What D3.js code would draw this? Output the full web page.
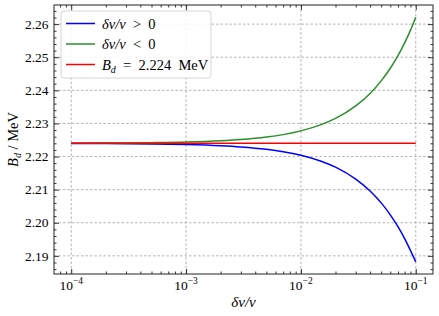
<!DOCTYPE html>
<html><head><meta charset="utf-8">
<script src="https://cdn.jsdelivr.net/npm/d3@7"></script>
<style>
html,body{margin:0;padding:0;background:#fff;}
svg{display:block;}
text{font-family:"Liberation Serif","Times New Roman",serif;fill:#000;}
</style></head>
<body>
<svg id="chart" width="439" height="316"></svg>
<script>
// ---- data ----
const deltas = [1e-4, 2e-4, 5e-4, 1e-3, 2e-3, 3e-3, 5e-3, 7e-3, 1e-2, 1.5e-2, 2e-2, 3e-2, 4e-2, 5e-2, 6e-2, 7e-2, 8e-2, 9e-2, 1e-1];
const bdPositive = [2.22396, 2.22393, 2.22382, 2.22364, 2.22328, 2.22292, 2.22220, 2.22148, 2.22040, 2.21860, 2.21680, 2.21320, 2.20960, 2.20600, 2.20240, 2.19880, 2.19520, 2.19160, 2.18820];
const bdNegative = [2.22404, 2.22407, 2.22419, 2.22437, 2.22475, 2.22512, 2.22587, 2.22662, 2.22775, 2.22963, 2.23151, 2.23528, 2.23907, 2.24287, 2.24668, 2.25050, 2.25434, 2.25819, 2.26210];
const bdRef = 2.224;
const xTicks = [1e-4, 1e-3, 1e-2, 1e-1];
const xTickExp = ["\u22124", "\u22123", "\u22122", "\u22121"];
const yTicks = [2.19, 2.20, 2.21, 2.22, 2.23, 2.24, 2.25, 2.26];
const seriesColors = ["#0000ff", "#2a8f2a", "#ff0000"];

// ---- layout ----
const L = 54, R = 433, T = 5, B = 274;
const svg = d3.select("#chart");
const x = d3.scaleLog().domain([Math.pow(10, -4.15), Math.pow(10, -0.85)]).range([L, R]);
const y = d3.scaleLinear().domain([2.18452, 2.26578]).range([B, T]);

// grid
const grid = svg.append("g").attr("stroke", "#a0a0a0").attr("stroke-width", 0.8).attr("stroke-dasharray", "2.5,2");
xTicks.forEach(t => grid.append("line").attr("x1", x(t)).attr("x2", x(t)).attr("y1", T).attr("y2", B));
yTicks.forEach(t => grid.append("line").attr("x1", L).attr("x2", R).attr("y1", y(t)).attr("y2", y(t)));

// lines
const line = d3.line().x((d, i) => x(deltas[i])).y(d => y(d)).curve(d3.curveMonotoneX);
svg.append("clipPath").attr("id", "clip").append("rect").attr("x", L).attr("y", T).attr("width", R - L).attr("height", B - T);
const plot = svg.append("g").attr("clip-path", "url(#clip)");
plot.append("path").datum(bdNegative).attr("d", line).attr("fill", "none").attr("stroke", seriesColors[1]).attr("stroke-width", 1.5);
plot.append("path").datum(bdPositive).attr("d", line).attr("fill", "none").attr("stroke", seriesColors[0]).attr("stroke-width", 1.5);
plot.append("path").datum(deltas.map(() => bdRef)).attr("d", line).attr("fill", "none").attr("stroke", seriesColors[2]).attr("stroke-width", 1.5);

// axes with inward ticks on all sides
const minorX = [];
for (let e = -5; e <= 0; e++) for (let m = 2; m <= 9; m++) { const v = m * Math.pow(10, e); if (v >= x.domain()[0] && v <= x.domain()[1]) minorX.push(v); }
const minorY = [];
for (let k = 2186; k <= 2265; k += 2) { if (k % 10 !== 0) minorY.push(k / 1000); }

function axisG(axis, tr) { const g = svg.append("g").attr("transform", tr).call(axis); g.select(".domain").remove(); g.selectAll("line").attr("stroke", "#000").attr("stroke-width", 0.8); g.selectAll("text").remove(); return g; }
axisG(d3.axisBottom(x).tickValues(xTicks).tickSize(-5), `translate(0,${B})`);
axisG(d3.axisBottom(x).tickValues(minorX).tickSize(-2.5), `translate(0,${B})`);
axisG(d3.axisTop(x).tickValues(xTicks).tickSize(-5), `translate(0,${T})`);
axisG(d3.axisTop(x).tickValues(minorX).tickSize(-2.5), `translate(0,${T})`);
axisG(d3.axisLeft(y).tickValues(yTicks).tickSize(-5), `translate(${L},0)`);
axisG(d3.axisLeft(y).tickValues(minorY).tickSize(-2.5), `translate(${L},0)`);
axisG(d3.axisRight(y).tickValues(yTicks).tickSize(-5), `translate(${R},0)`);
axisG(d3.axisRight(y).tickValues(minorY).tickSize(-2.5), `translate(${R},0)`);

svg.append("rect").attr("x", L).attr("y", T).attr("width", R - L).attr("height", B - T).attr("fill", "none").attr("stroke", "#222").attr("stroke-width", 1);

// tick labels
xTicks.forEach((t, i) => {
  const tx = svg.append("text").attr("x", x(t)).attr("y", 289.5).attr("text-anchor", "middle").attr("font-size", 13.5);
  tx.append("tspan").text("10");
  tx.append("tspan").attr("font-size", 9.5).attr("dy", -5.5).text(xTickExp[i]);
});
yTicks.forEach(t => {
  svg.append("text").attr("x", 48.5).attr("y", y(t)).attr("dy", "0.35em").attr("text-anchor", "end").attr("font-size", 13.5).text(d3.format(".2f")(t));
});

// axis labels
const xl = svg.append("text").attr("x", (L + R) / 2).attr("y", 307).attr("text-anchor", "middle").attr("font-size", 15).attr("font-style", "italic");
xl.append("tspan").text("δv/v");
const yl = svg.append("text").attr("transform", `translate(18,${(T + B) / 2}) rotate(-90)`).attr("text-anchor", "middle").attr("font-size", 14.5);
yl.append("tspan").attr("font-style", "italic").text("B");
yl.append("tspan").attr("font-style", "italic").attr("font-size", 10).attr("dy", 3).text("d");
yl.append("tspan").attr("dy", -3).text(" / MeV");

// legend
const lg = svg.append("g");
lg.append("rect").attr("x", 61).attr("y", 11).attr("width", 150).attr("height", 67).attr("rx", 3).attr("fill", "#fff").attr("fill-opacity", 0.85).attr("stroke", "#cccccc").attr("stroke-width", 0.8);
const legendRows = [
  { c: seriesColors[0], parts: [["δv/v", "italic"], ["\u2002>\u20020", "normal"]] },
  { c: seriesColors[1], parts: [["δv/v", "italic"], ["\u2002<\u20020", "normal"]] },
  { c: seriesColors[2], parts: null }
];
legendRows.forEach((r, i) => {
  const yy = 23.5 + i * 20.5;
  lg.append("line").attr("x1", 66).attr("x2", 95).attr("y1", yy).attr("y2", yy).attr("stroke", r.c).attr("stroke-width", 1.5);
  const t = lg.append("text").attr("x", 102).attr("y", yy).attr("dy", "0.35em").attr("font-size", 14.5);
  if (r.parts) {
    r.parts.forEach(p => t.append("tspan").attr("font-style", p[1]).text(p[0]));
  } else {
    t.append("tspan").attr("font-style", "italic").text("B");
    t.append("tspan").attr("font-style", "italic").attr("font-size", 10).attr("dy", 3).text("d");
    t.append("tspan").attr("dy", -3).text("\u2002=\u20022.224\u2002MeV");
  }
});
</script>
</body></html>
